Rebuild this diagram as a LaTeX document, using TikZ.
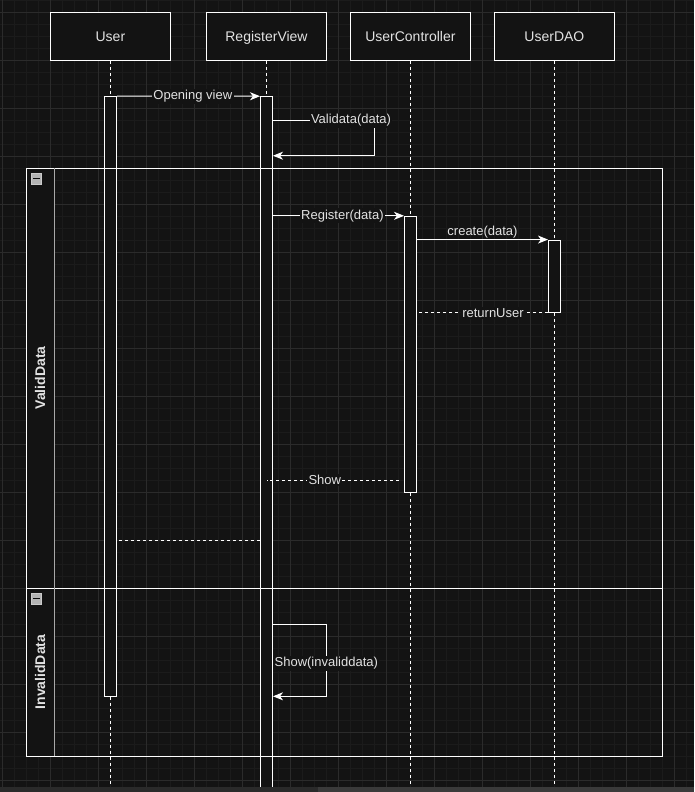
\documentclass[tikz,border=0pt]{standalone}
\usepackage{fontspec}
\setmainfont{Liberation Sans}
\usepackage{tikz}
\usepackage{xcolor}
\usetikzlibrary{positioning, arrows.meta}
\definecolor{BackNC}{HTML}{131313}
\definecolor{MinorNC}{HTML}{1B1B1B}
\definecolor{MajorNC}{HTML}{2B2B2B}
\definecolor{FontColor}{HTML}{E2E2E2}
\definecolor{EdgeNC}{HTML}{A8A8A8}
\definecolor{FoldNC}{HTML}{B4B4B4}
\definecolor{BarNC}{HTML}{2A2A2A}
\definecolor{ThumbNC}{HTML}{3A3A3A}
\newcommand\nodeuser{User}
\newcommand\nodeview{RegisterView}
\newcommand\nodectrl{UserController}
\newcommand\nodedao{UserDAO}
\tikzstyle{headbox} = [rectangle, draw=white, fill=BackNC, minimum width=90pt, minimum height=36pt, text height=7.5pt, text depth=0pt, text=FontColor, font=\fontsize{10.5}{12}\selectfont]
\tikzstyle{actbar} = [rectangle, draw=white, fill=BackNC, minimum width=9pt, inner sep=0pt]
\tikzstyle{lifeline} = [draw=white, dash pattern=on 2.25pt off 2.25pt]
\tikzstyle{msg} = [draw=white]
\tikzstyle{reply} = [draw=white, dash pattern=on 2.25pt off 2.25pt]
\tikzstyle{msglabel} = [fill=BackNC, text=FontColor, inner sep=1pt, font=\fontsize{9.75}{11}\selectfont]
\tikzstyle{framelabel} = [text=FontColor, font=\fontsize{10.5}{12}\selectfont\bfseries]
\tikzstyle{foldicon} = [rectangle, draw=FoldNC!70!white, fill=FoldNC, minimum size=8pt, inner sep=0pt]
\tikzset{>={Stealth[length=7.5pt, width=6pt, inset=2.2pt]}, every picture/.style={line width=0.75pt}}
\begin{document}
\begin{tikzpicture}[x=0.75pt, y=-0.75pt]
\useasboundingbox (0,0) rectangle (694,792);
\fill[BackNC] (0,0) rectangle (694,792);
\foreach \gx in {2,14,...,694} \draw[MinorNC, line width=0.6pt] (\gx,0) -- (\gx,792);
\foreach \gy in {0,12,...,792} \draw[MinorNC, line width=0.6pt] (0,\gy) -- (694,\gy);
\foreach \gx in {2,50,...,674} \draw[MajorNC, line width=0.6pt] (\gx,0) -- (\gx,792);
\foreach \gy in {12,60,...,780} \draw[MajorNC, line width=0.6pt] (0,\gy) -- (694,\gy);
\fill[BackNC] (26.3,168.3) rectangle (54,756);
\node[headbox] (user) at (110.4,36.3) {\nodeuser};
\node[headbox] (view) at (266.5,36.3) {\nodeview};
\node[headbox] (ctrl) at (410.4,36.3) {\nodectrl};
\node[headbox] (dao) at (554.4,36.3) {\nodedao};
\coordinate (floor) at (0,792);
\draw[lifeline] (user) -- (user |- floor);
\draw[lifeline] (view) -- (view |- floor);
\draw[lifeline] (ctrl) -- (ctrl |- floor);
\draw[lifeline] (dao) -- (dao |- floor);
\node[actbar, minimum height=449.7pt] (uact) at (110.5,396.5) {};
\node[actbar, minimum height=527.5pt] (vact) at (266.5,448.4) {};
\node[actbar, minimum height=207pt] (cact) at (410.5,354.3) {};
\node[actbar, minimum height=54.2pt] (dact) at (554.5,276.2) {};
\draw[white] (26.3,168.3) rectangle (662.3,756);
\draw[white] (26.3,588) -- (662.3,588);
\draw[EdgeNC] (54,168.3) -- (54,756);
\node[framelabel, rotate=90] (valid) at (40,378) {ValidData};
\node[framelabel, rotate=90] (invalid) at (40,672) {InvalidData};
\node[foldicon] (foldv) at (36.5,178.7) {};
\node[foldicon] (foldi) at (36.5,598.7) {};
\draw[BackNC!60!black, line width=1pt] ([xshift=1.8pt]foldv.west) -- ([xshift=-1.8pt]foldv.east);
\draw[BackNC!60!black, line width=1pt] ([xshift=1.8pt]foldi.west) -- ([xshift=-1.8pt]foldi.east);
\coordinate (valtop) at (374.3,120.3);
\coordinate (valbot) at (374.3,155.7);
\coordinate (showend) at (399,480.3);
\coordinate (backy) at (0,540);
\coordinate (invtop) at (326.3,624.3);
\coordinate (invbot) at (326.3,696.3);
\draw[msg, ->] (uact.north east) -- node[msglabel, pos=0.53] {Opening view} (vact.north west);
\draw[msg, ->] (vact.east |- valtop) -- node[msglabel, pos=0.77] {Validata(data)} (valtop) -- (valbot) -- (vact.east |- valbot);
\draw[msg, ->] (vact.east |- cact.north) -- node[msglabel, pos=0.53] {Register(data)} (cact.north west);
\draw[msg, ->] (cact.east |- dact.north) -- node[msglabel, above, fill=none] {create(data)} (dact.north west);
\draw[reply] (dact.south west) -- node[msglabel, pos=0.42] {returnUser} (cact.east |- dact.south);
\draw[reply] (showend) -- node[msglabel, pos=0.56] {Show} (vact.center |- showend);
\draw[reply] (vact.west |- backy) -- (uact.east |- backy);
\draw[msg, ->] (vact.east |- invtop) -- (invtop) -- node[msglabel, pos=0.54] {Show(invaliddata)} (invbot) -- (vact.east |- invbot);
\fill[BarNC] (0,787) rectangle (694,792);
\fill[ThumbNC] (318,787) rectangle (694,792);
\end{tikzpicture}
\end{document}
